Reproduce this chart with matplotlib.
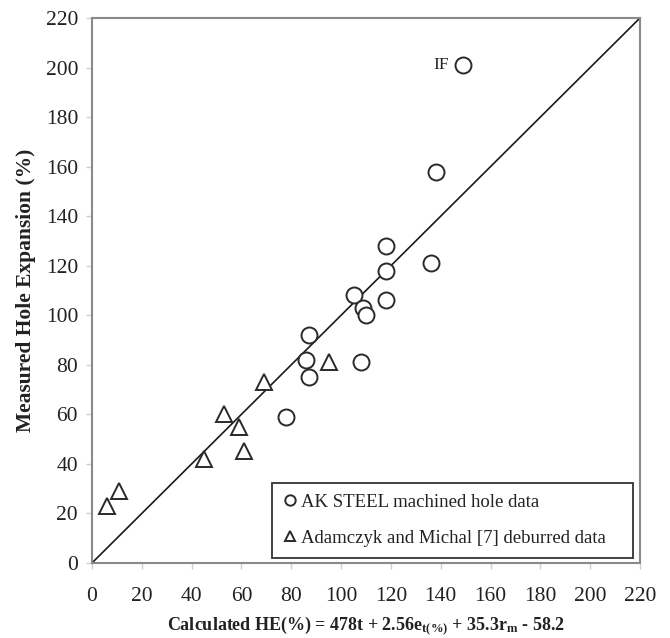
import matplotlib
matplotlib.use("Agg")
import matplotlib.pyplot as plt

plt.rcParams['font.family'] = ['Liberation Serif', 'DejaVu Serif']
plt.rcParams['mathtext.fontset'] = 'custom'
plt.rcParams['mathtext.rm'] = 'Liberation Serif'
plt.rcParams['mathtext.bf'] = 'Liberation Serif:bold'
plt.rcParams['mathtext.it'] = 'Liberation Serif:italic'

# AK Steel machined holes: calculated vs measured HE (%)
ak_calc = [149, 138, 118, 118, 136, 105, 109, 110, 118, 87, 86, 87, 108, 78]
ak_meas = [201, 158, 128, 118, 121, 108, 103, 100, 106, 92, 82, 75, 81, 59]

# Adamczyk and Michal deburred holes
am_calc = [6, 11, 45, 53, 59, 61, 69, 95]
am_meas = [23, 29, 42, 60, 55, 45, 73, 81]

lim = [0, 220]
ticks = list(range(0, 221, 20))

fig = plt.figure(figsize=(6.7, 6.38), dpi=100)
ax = fig.add_axes([0.1373, 0.1176, 0.8179, 0.8542])

ax.plot(lim, lim, color='#1a1a1a', lw=1.2, zorder=2)

ax.plot(ak_calc, ak_meas, ls='none', marker='o', ms=11.5, mfc='white',
        mec='#2a2a2a', mew=1.4, label='AK STEEL machined hole data', zorder=3)
ax.plot(am_calc, am_meas, ls='none', marker='^', ms=12, mfc='white',
        mec='#2a2a2a', mew=1.4, label='Adamczyk and Michal [7] deburred data', zorder=3)

ax.text(143.5, 201, 'IF', ha='right', va='center', fontsize=12.5, color='#222222')

ax.set_xlim(lim)
ax.set_ylim(lim)
ax.set_xticks(ticks)
ax.set_yticks(ticks)
for s in ax.spines.values():
    s.set_color('#8a8a8a')
    s.set_linewidth(1.5)
ax.tick_params(axis='both', direction='out', length=4, width=1, color='#cfcfcf',
               labelsize=15.5, labelcolor='#222222')
ax.tick_params(axis='x', pad=13)
ax.tick_params(axis='y', pad=6)

ax.set_ylabel('Measured Hole Expansion (%)', fontsize=15.5, fontweight='bold',
              color='#222222', labelpad=7)
ax.set_xlabel(r'Calculated HE(%) = 478t + 2.56e$_{\mathbf{t(\%)}}$ + 35.3r$_{\mathbf{m}}$ - 58.2',
              fontsize=13, fontweight='bold', color='#222222', labelpad=6)

leg = ax.legend(loc='lower left', bbox_to_anchor=(0.328, 0.009, 0.659, 0.138),
                mode='expand', borderaxespad=0, fancybox=False, fontsize=13.5,
                handlelength=0.7, handletextpad=0.25, labelspacing=1.0,
                borderpad=0.6, markerscale=0.65, framealpha=1)
leg.get_frame().set_edgecolor('#333333')
leg.get_frame().set_linewidth(1.3)
for t in leg.get_texts():
    t.set_color('#222222')

fig.savefig('out.png', dpi=100)
